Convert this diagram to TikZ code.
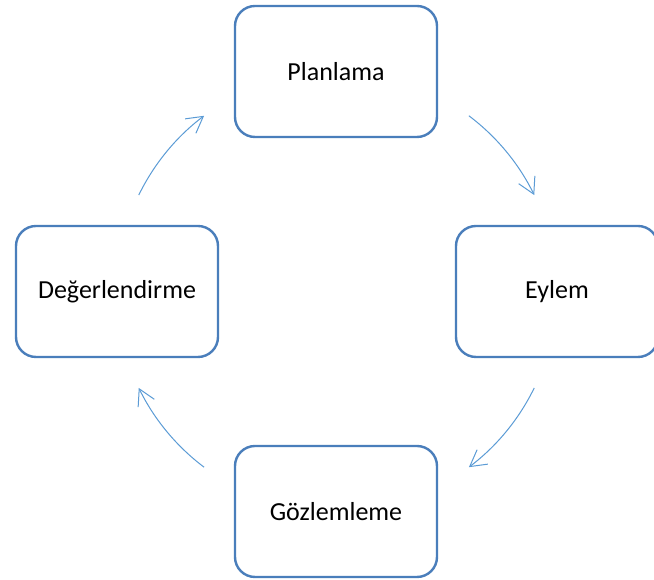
\documentclass[tikz,border=0pt]{standalone}
\usepackage{fontspec}
\setmainfont{Carlito}
\usepackage{xcolor}
\usetikzlibrary{arrows.meta, positioning, calc}

\definecolor{boxblue}{RGB}{74,126,187}
\definecolor{arrowblue}{RGB}{91,155,213}

\begin{document}
\begin{tikzpicture}[x=1pt, y=1pt,
		stage/.style={draw=boxblue, line width=2.4pt, fill=white, rounded corners=20pt,
			minimum width=202pt, minimum height=131pt, inner sep=0pt,
			font=\fontsize{26}{31}\selectfont},
		cyclearrow/.style={arrowblue, line width=1pt,
			-{Straight Barb[length=16pt, width=18pt, line width=1pt]}}]
	
	% ----- Canvas -----
	\useasboundingbox (0,0) rectangle (654,580);
	
	% ----- Parameters -----
	\def\rad{220} % radius of the cycle arrows
	\coordinate (mid) at (336.5,288.5);
	
	% ----- Stages -----
	\node[stage] (plan)   at (336,508.5) {Planlama};
	\node[stage] (eylem)  at (557,288.5) {Eylem};
	\node[stage] (gozlem) at (336,68.5)  {Gözlemleme};
	\node[stage] (deger)  at (117,288.5) {Değerlendirme};
	
	% ----- Cycle arrows -----
	\draw[cyclearrow] ($(mid)+(53:\rad)$)   arc[start angle=53,   end angle=26,   radius=\rad];
	\draw[cyclearrow] ($(mid)+(-26:\rad)$)  arc[start angle=-26,  end angle=-53,  radius=\rad];
	\draw[cyclearrow] ($(mid)+(-127:\rad)$) arc[start angle=-127, end angle=-154, radius=\rad];
	\draw[cyclearrow] ($(mid)+(154:\rad)$)  arc[start angle=154,  end angle=127,  radius=\rad];
	
\end{tikzpicture}
\end{document}
